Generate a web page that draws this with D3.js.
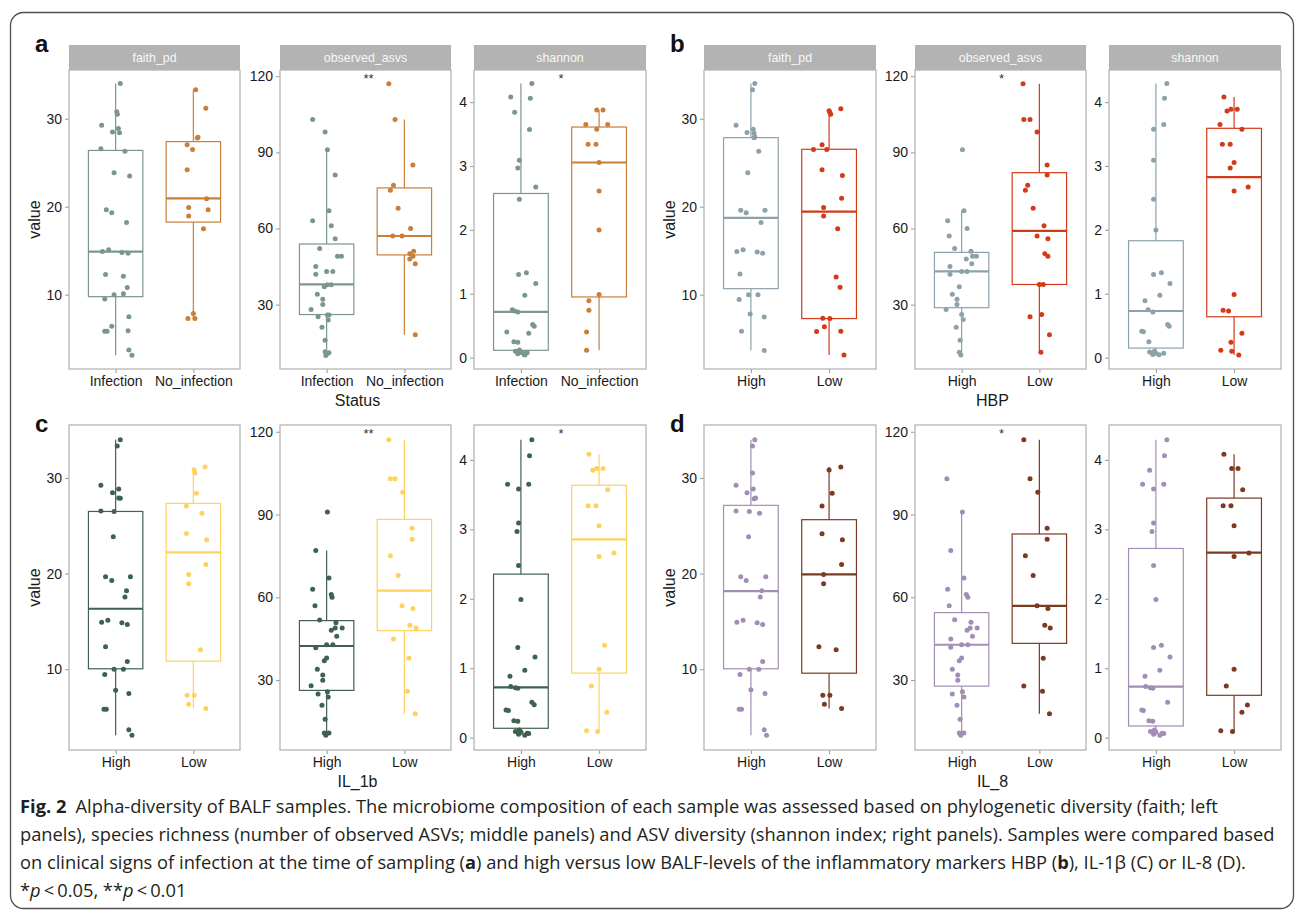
<!DOCTYPE html>
<html>
<head>
<meta charset="utf-8">
<script src="https://cdn.jsdelivr.net/npm/d3@7"></script>
<style>
  body { margin: 0; background: #fff; }
  svg { display: block; }
</style>
</head>
<body>
<div id="chart"></div>
<script>
// ---- data ----
const metrics = ["faith_pd", "observed_asvs", "shannon"];
const faithTicks = [10, 20, 30];
const asvTicks = [30, 60, 90, 120];
const shannonTicks = [0, 1, 2, 3, 4];

const statusGroups = ["Infection", "No_infection"];
const levelGroups = ["High", "Low"];
const axisTitles = ["Status", "HBP", "IL_1b", "IL_8"];
const panelLetters = ["a", "b", "c", "d"];

const aColors = ["#7b978d", "#c97f3a"];
const bColors = ["#8da1ab", "#d23b19"];
const cColors = ["#3f6152", "#ffd25e"];
const dColors = ["#a28eb5", "#7b3a22"];

const aStars = ["", "**", "*"];
const bStars = ["", "*", ""];
const cStars = ["", "**", "*"];
const dStars = ["", "*", ""];

// points: [jitter offset (category units), value]
const aFaith = [
  [[.06,34.0],[.014,30.8],[.022,30.5],[-.18,29.25],[-.04,28.5],[.035,28.9],[.05,28.4],[-.19,26.6],[.12,26.3],[-.02,23.85],[.18,23.5],[-.12,19.65],[-.05,19.3],[.14,18.2],[-.17,14.9],[-.09,15.1],[.08,14.8],[.16,14.7],[-.13,12.3],[.10,12.1],[.15,10.8],[-.02,10.0],[.10,10.1],[-.14,9.5],[.17,7.5],[-.05,6.4],[-.14,5.85],[-.11,5.85],[.16,5.9],[.17,3.7],[.21,3.1]],
  [[.03,33.3],[.16,31.2],[.05,27.8],[.06,27.9],[-.08,27.05],[-.01,26.5],[-.08,24.2],[.17,20.9],[-.06,19.9],[.19,19.65],[-.06,18.95],[.13,17.5],[0,7.85],[-.07,7.3],[.02,7.3]]
];
const aAsv = [
  [[-.18,103.0],[-.02,98.0],[.01,91.0],[.11,81.1],[.03,67.0],[-.18,63.05],[.06,61.1],[.11,56.0],[-.09,52.1],[.14,49.1],[.19,49.1],[-.14,45.0],[-.14,42.0],[0,43.1],[.08,43.1],[-.03,37.1],[.01,37.85],[.06,37.85],[-.12,34.05],[-.05,32.1],[-.05,30.1],[-.2,28.05],[-.11,25.2],[.01,25.95],[.03,25.95],[.02,24.0],[-.06,21.1],[-.02,16.0],[-.02,11.45],[0,10.55],[.03,11.05],[-.01,10.0]],
  [[-.2,117.0],[-.12,103.0],[.11,85.0],[-.14,77.0],[-.18,75.1],[-.08,68.0],[.08,60.05],[-.15,57.05],[-.03,57.05],[.12,51.0],[.07,50.1],[.11,49.05],[.07,48.0],[.14,46.1],[.14,18.1]]
];
const aShannon = [
  [[.14,4.29],[-.13,4.08],[.12,4.06],[-.08,3.84],[.11,3.57],[-.02,3.09],[-.04,2.97],[.19,2.67],[-.02,2.48],[.07,1.33],[-.03,1.30],[.19,1.16],[.05,0.975],[-.11,0.75],[-.08,0.73],[-.04,0.715],[.15,0.52],[.17,0.49],[-.18,0.40],[.10,0.38],[-.09,0.25],[-.04,0.24],[-.07,0.10],[-.02,0.12],[0,0.09],[-.04,0.06],[.04,0.05],[.07,0.07],[.08,0.08],[.02,0.08],[.05,0.04]],
  [[-.03,3.875],[.05,3.875],[-.17,3.65],[.11,3.65],[-.03,3.575],[-.14,3.34],[-.04,3.34],[0,3.055],[0,2.61],[0,2.0],[0,0.99],[-.13,0.89],[-.13,0.74],[-.16,0.40],[-.16,0.115]]
];
const bFaith = [
  [[.05,34.0],[.02,33.3],[-.19,29.25],[-.05,28.45],[.03,28.8],[.04,28.35],[.04,27.85],[.05,27.95],[.1,26.3],[-.04,23.85],[-.13,19.6],[-.06,19.3],[.18,19.6],[.13,18.2],[-.18,14.9],[-.10,15.1],[.08,14.85],[.15,14.7],[-.14,12.35],[-.03,10.0],[.09,10.0],[-.15,9.44],[-.01,7.8],[.17,7.47],[-.12,5.85],[.17,3.66]],
  [[.15,31.15],[0,30.9],[.01,30.7],[.02,30.5],[-.2,26.5],[-.09,27.05],[-.03,26.5],[-.09,24.2],[.17,23.55],[.16,20.95],[-.07,19.9],[-.07,18.95],[.11,17.5],[.09,12.0],[.14,10.83],[-.08,7.32],[.01,7.28],[-.06,6.34],[-.16,5.81],[.15,5.85],[.19,3.13]]
];
const bAsv = [
  [[.01,91.0],[.03,67.0],[-.18,63.05],[.07,60.05],[-.16,57.05],[-.09,52.1],[.12,51.0],[.14,49.1],[.19,49.1],[.06,48.0],[.13,46.1],[-.15,45.0],[-.15,42.0],[0,43.1],[.07,43.1],[-.03,37.1],[-.12,34.05],[-.06,32.1],[-.06,30.1],[-.2,28.05],[0,26.1],[.02,24.1],[-.07,21.1],[-.02,16.0],[-.03,11.2],[-.01,10.15]],
  [[-.21,117.0],[-.2,103.0],[-.12,103.0],[-.03,98.0],[.1,85.0],[.1,81.1],[-.15,77.0],[-.18,75.1],[-.08,68.0],[.06,61.1],[-.03,57.05],[.11,56.0],[.07,50.1],[.11,49.05],[0,37.95],[.05,37.95],[-.12,25.2],[.03,26.1],[.13,18.1],[.02,11.2]]
];
const bShannon = [
  [[.14,4.29],[.11,4.06],[.1,3.65],[-.03,3.575],[-.03,3.09],[-.03,2.48],[0,2.0],[.07,1.33],[-.03,1.30],[.18,1.16],[.05,0.975],[-.14,0.89],[-.1,0.75],[-.04,0.715],[.15,0.52],[.17,0.49],[-.18,0.415],[-.16,0.405],[-.09,0.25],[-.02,0.10],[-.08,0.09],[-.04,0.05],[0,0.07],[.04,0.045],[.1,0.067]],
  [[-.13,4.08],[-.09,3.86],[-.04,3.89],[.04,3.89],[-.18,3.65],[.1,3.575],[-.15,3.34],[-.05,3.34],[0,3.055],[-.05,2.97],[.18,2.67],[0,2.61],[0,0.99],[-.14,0.74],[-.07,0.73],[.1,0.38],[-.04,0.24],[-.17,0.115],[-.03,0.10],[.06,0.04]]
];
const cFaith = [
  [[.06,34.0],[.02,33.35],[-.19,29.23],[-.04,28.47],[.04,28.85],[.04,27.9],[.06,27.87],[-.19,26.55],[-.02,26.5],[-.03,23.86],[-.13,19.67],[-.05,19.28],[.19,19.67],[.14,18.2],[.12,17.54],[-.18,14.92],[-.1,15.13],[.08,14.85],[.15,14.68],[-.13,12.34],[.15,10.8],[-.02,10.0],[.1,10.0],[-.14,9.44],[0,7.8],[.17,7.45],[-.15,5.81],[-.12,5.81],[.17,3.65],[.21,3.09]],
  [[.15,31.15],[.01,30.84],[.02,30.52],[.04,28.4],[-.09,27.07],[.11,26.3],[-.09,24.2],[.17,23.54],[.16,20.96],[-.06,19.91],[-.06,18.94],[.09,12.03],[-.08,7.28],[.01,7.28],[-.06,6.33],[.16,5.88]]
];
const cAsv = [
  [[.01,90.9],[-.14,77.0],[.03,66.95],[-.18,62.95],[.06,61.0],[.07,60.05],[-.15,56.9],[-.09,51.8],[.12,50.8],[.06,48.05],[.11,48.9],[.2,48.9],[.13,45.9],[-.14,41.75],[0,42.8],[.08,42.8],[0,38.0],[-.03,37.0],[-.12,33.9],[-.05,31.8],[-.05,29.9],[-.2,27.9],[-.11,24.9],[.01,25.75],[.02,23.9],[-.06,20.9],[-.02,15.8],[-.03,10.85],[.03,10.85],[-.01,10.0]],
  [[-.2,117.1],[-.18,103.0],[-.12,103.0],[-.02,98.05],[.1,85.0],[.1,81.0],[-.18,75.05],[-.08,67.9],[-.03,56.9],[.11,55.9],[.07,49.9],[.15,48.9],[-.14,44.9],[.06,37.9],[.04,25.9],[.14,17.75]]
];
const cShannon = [
  [[.14,4.29],[.11,4.06],[-.17,3.65],[.1,3.65],[-.03,3.58],[-.03,3.09],[-.05,2.97],[-.03,2.48],[0,1.99],[-.04,1.30],[.18,1.16],[.05,0.97],[-.14,0.885],[-.13,0.735],[-.07,0.72],[-.04,0.71],[.14,0.51],[.17,0.475],[-.19,0.40],[-.16,0.39],[-.09,0.245],[-.04,0.235],[-.07,0.09],[-.02,0.11],[0,0.08],[-.03,0.05],[.05,0.035],[.08,0.065],[.1,0.06]],
  [[-.13,4.08],[-.08,3.85],[-.03,3.875],[.05,3.875],[.11,3.57],[-.14,3.34],[-.04,3.34],[0,3.05],[.19,2.66],[0,2.61],[.07,1.33],[0,0.985],[-.1,0.745],[.1,0.365],[-.16,0.10],[-.02,0.09]]
];
const dFaith = [
  [[.05,34.0],[.02,33.35],[.02,30.52],[-.19,29.23],[-.05,28.47],[.03,28.85],[.04,27.84],[.06,27.9],[-.19,26.55],[-.02,26.5],[.11,26.3],[-.03,23.86],[-.13,19.67],[-.06,19.28],[.19,19.67],[.14,18.2],[.12,17.54],[-.18,14.92],[-.1,15.13],[.08,14.85],[.15,14.68],[.15,10.8],[-.02,10.0],[.1,10.0],[-.14,9.44],[0,7.84],[.18,7.45],[-.15,5.81],[-.12,5.81],[.17,3.65],[.2,3.09]],
  [[.15,31.15],[0,30.84],[.04,28.4],[-.09,27.07],[-.09,24.17],[.17,23.54],[.16,20.96],[-.07,19.91],[-.07,18.94],[-.13,12.34],[.09,12.03],[-.08,7.28],[.01,7.28],[-.06,6.33],[.16,5.88]]
];
const dAsv = [
  [[-.19,103.0],[.01,90.9],[-.14,77.0],[.03,66.95],[-.18,62.95],[.06,61.0],[.08,60.05],[-.16,56.9],[-.09,51.9],[.12,50.95],[.07,48.05],[.11,48.9],[.2,48.9],[.14,45.9],[-.14,44.9],[-.14,41.9],[0,42.8],[.08,42.8],[0,38.0],[-.03,37.0],[-.12,33.9],[-.05,31.8],[-.05,29.9],[-.12,24.9],[.01,25.75],[.03,23.9],[-.06,20.9],[-.02,15.8],[-.03,10.85],[.03,10.85],[-.01,10.0]],
  [[-.2,117.1],[-.12,103.0],[-.02,98.05],[.1,85.0],[.1,81.0],[-.18,75.05],[-.08,67.9],[-.03,56.9],[.11,55.9],[.07,49.9],[.14,48.9],[.05,37.9],[-.2,27.8],[.04,25.9],[.13,17.75]]
];
const dShannon = [
  [[.14,4.29],[.11,4.06],[-.08,3.85],[-.17,3.65],[.1,3.65],[-.03,3.58],[-.03,3.09],[-.05,2.97],[-.03,2.48],[0,1.99],[.07,1.33],[-.03,1.30],[.18,1.16],[.05,0.97],[-.14,0.885],[-.13,0.735],[-.07,0.72],[-.04,0.71],[.15,0.51],[-.18,0.40],[-.16,0.39],[-.09,0.245],[-.04,0.235],[-.07,0.09],[-.02,0.11],[0,0.08],[-.03,0.05],[.05,0.035],[.08,0.065],[.1,0.06]],
  [[-.13,4.08],[-.03,3.875],[.05,3.875],[.11,3.57],[-.14,3.34],[-.04,3.34],[0,3.05],[.19,2.66],[0,2.61],[0,0.985],[-.1,0.745],[.17,0.47],[.1,0.365],[-.17,0.10],[-.02,0.09]]
];

// box stats: [lower whisker, Q1, median, Q3, upper whisker]
const aFaithBox = [[3.1, 9.77, 14.9, 26.4, 34.0], [7.3, 18.25, 20.95, 27.4, 33.3]];
const aAsvBox = [[10.0, 26.1, 37.95, 53.9, 91.0], [18.1, 49.6, 57.05, 76.0, 103.0]];
const aShannonBox = [[0.04, 0.115, 0.715, 2.57, 4.29], [0.115, 0.95, 3.055, 3.61, 3.875]];
const bFaithBox = [[3.66, 10.68, 18.72, 27.85, 34.0], [3.13, 7.28, 19.43, 26.53, 31.15]];
const bAsvBox = [[10.15, 28.8, 43.1, 50.6, 67.0], [11.2, 37.95, 59.1, 82.0, 117.0]];
const bShannonBox = [[0.045, 0.15, 0.73, 1.83, 4.29], [0.04, 0.64, 2.825, 3.59, 4.08]];
const cFaithBox = [[3.09, 10.04, 16.32, 26.5, 34.0], [5.88, 10.84, 22.21, 27.35, 31.15]];
const cAsvBox = [[10.0, 26.25, 42.35, 51.55, 77.0], [17.75, 47.9, 62.45, 88.25, 117.1]];
const cShannonBox = [[0.035, 0.135, 0.725, 2.355, 4.29], [0.09, 0.93, 2.855, 3.635, 4.08]];
const dFaithBox = [[3.09, 10.04, 18.17, 27.14, 34.0], [5.88, 9.58, 19.91, 25.64, 31.15]];
const dAsvBox = [[10.0, 27.8, 42.8, 54.45, 90.9], [17.75, 43.3, 56.9, 82.95, 117.1]];
const dShannonBox = [[0.035, 0.168, 0.735, 2.725, 4.29], [0.09, 0.61, 2.665, 3.45, 4.08]];

// ---- layout ----
const W = 1295, H = 913;
const colX = [
  [[69, 240], [280, 451], [474, 646]],
  [[704, 876], [915, 1086], [1109, 1281]]
];
const rowY = [
  {top: 70, bottom: 369, strip: true},
  {top: 425, bottom: 750, strip: false}
];
const tickFont = 14, titleFont = 16;
const fontStack = "'Liberation Sans', Arial, Helvetica, sans-serif";

const blocks = [
  {row: 0, col: 0, groups: statusGroups, colors: aColors, stars: aStars, pts: [aFaith, aAsv, aShannon], boxes: [aFaithBox, aAsvBox, aShannonBox]},
  {row: 0, col: 1, groups: levelGroups, colors: bColors, stars: bStars, pts: [bFaith, bAsv, bShannon], boxes: [bFaithBox, bAsvBox, bShannonBox]},
  {row: 1, col: 0, groups: levelGroups, colors: cColors, stars: cStars, pts: [cFaith, cAsv, cShannon], boxes: [cFaithBox, cAsvBox, cShannonBox]},
  {row: 1, col: 1, groups: levelGroups, colors: dColors, stars: dStars, pts: [dFaith, dAsv, dShannon], boxes: [dFaithBox, dAsvBox, dShannonBox]}
];
const metricTicks = [faithTicks, asvTicks, shannonTicks];

// y domain per metric: data range of all panels, expanded 5% like ggplot
const metricExtents = metrics.map((m, mi) =>
  d3.extent(blocks.flatMap(b => b.pts[mi].flat().map(p => p[1]))));
const metricDomains = metricExtents.map(([lo, hi]) => {
  const pad = (hi - lo) * 0.05;
  return [lo - pad, hi + pad];
});

const svg = d3.select("#chart").append("svg")
  .attr("width", W).attr("height", H)
  .style("font-family", fontStack);

svg.append("rect")
  .attr("x", 10.5).attr("y", 12.5)
  .attr("width", 1283).attr("height", 896)
  .attr("rx", 13)
  .attr("fill", "none")
  .attr("stroke", "#505050")
  .attr("stroke-width", 1.3);

blocks.forEach((blk, bi) => {
  const ry = rowY[blk.row];
  const cols = colX[blk.col];

  // panel letter
  svg.append("text")
    .attr("x", cols[0][0] - 34)
    .attr("y", blk.row === 0 ? 52 : 432)
    .attr("font-size", 24).attr("font-weight", "bold")
    .attr("fill", "#111")
    .text(panelLetters[bi]);

  metrics.forEach((metric, mi) => {
    const [x0, x1] = cols[mi];
    const x = d3.scalePoint().domain(blk.groups).range([x0, x1]).padding(0.6);
    const step = x.step();
    const y = d3.scaleLinear().domain(metricDomains[mi]).range([ry.bottom, ry.top]);
    const g = svg.append("g");

    if (ry.strip) {
      g.append("rect")
        .attr("x", x0).attr("y", ry.top - 25)
        .attr("width", x1 - x0).attr("height", 25)
        .attr("fill", "#b3b3b3");
      g.append("text")
        .attr("x", (x0 + x1) / 2).attr("y", ry.top - 12.5)
        .attr("dy", "0.35em")
        .attr("text-anchor", "middle")
        .attr("font-size", 12.4)
        .attr("fill", "#f7f7f7")
        .text(metric);
    }

    // y axis
    const ya = g.append("g")
      .attr("transform", `translate(${x0},0)`)
      .call(d3.axisLeft(y).tickValues(metricTicks[mi]).tickFormat(d3.format("~g"))
        .tickSize(4).tickPadding(3));
    // x axis
    const xa = g.append("g")
      .attr("transform", `translate(0,${ry.bottom})`)
      .call(d3.axisBottom(x).tickSize(4).tickPadding(3));
    [ya, xa].forEach(ax => {
      ax.attr("font-size", tickFont).attr("font-family", fontStack);
      ax.select(".domain").remove();
      ax.selectAll(".tick line").attr("stroke", "#a0a0a0").attr("stroke-width", 1.1);
      ax.selectAll(".tick text").attr("fill", "#1a1a1a");
    });

    // boxplots
    blk.groups.forEach((grp, gi) => {
      const [lo, q1, med, q3, hi] = blk.boxes[mi][gi];
      const cx = x(grp);
      const hw = step * 0.35;
      const col = blk.colors[gi];
      g.append("line")
        .attr("x1", cx).attr("x2", cx)
        .attr("y1", y(hi)).attr("y2", y(q3))
        .attr("stroke", col).attr("stroke-width", 1.2);
      g.append("line")
        .attr("x1", cx).attr("x2", cx)
        .attr("y1", y(q1)).attr("y2", y(lo))
        .attr("stroke", col).attr("stroke-width", 1.2);
      g.append("rect")
        .attr("x", cx - hw).attr("y", y(q3))
        .attr("width", hw * 2).attr("height", y(q1) - y(q3))
        .attr("fill", "#fff")
        .attr("stroke", col).attr("stroke-width", 1.2);
      g.append("line")
        .attr("x1", cx - hw).attr("x2", cx + hw)
        .attr("y1", y(med)).attr("y2", y(med))
        .attr("stroke", col).attr("stroke-width", 2.2);
    });

    // jittered points
    blk.groups.forEach((grp, gi) => {
      g.selectAll(null)
        .data(blk.pts[mi][gi])
        .join("circle")
        .attr("cx", d => x(grp) + d[0] * step)
        .attr("cy", d => y(d[1]))
        .attr("r", 2.5)
        .attr("fill", blk.colors[gi]);
    });

    // significance label, just above the highest value
    if (blk.stars[mi]) {
      const [lo, hi] = metricExtents[mi];
      const labY = hi + (hi - lo) * 0.03;
      g.append("text")
        .attr("x", (x0 + x1) / 2 + (blk.stars[mi].length > 1 ? 3 : 1))
        .attr("y", y(labY) + 7.5)
        .attr("text-anchor", "middle")
        .attr("font-size", 13)
        .attr("fill", "#333")
        .text(blk.stars[mi]);
    }

    // panel border
    g.append("rect")
      .attr("x", x0).attr("y", ry.top)
      .attr("width", x1 - x0).attr("height", ry.bottom - ry.top)
      .attr("fill", "none")
      .attr("stroke", "#b5b5b5").attr("stroke-width", 1.3);
  });

  // y axis title
  const midY = (ry.top + ry.bottom) / 2;
  svg.append("text")
    .attr("transform", `translate(${cols[0][0] - 35},${midY}) rotate(-90)`)
    .attr("text-anchor", "middle")
    .attr("dy", "0.35em")
    .attr("font-size", titleFont)
    .attr("fill", "#1a1a1a")
    .text("value");

  // x axis title
  svg.append("text")
    .attr("x", (cols[0][0] + cols[2][1]) / 2)
    .attr("y", ry.bottom + 37)
    .attr("text-anchor", "middle")
    .attr("font-size", titleFont)
    .attr("fill", "#1a1a1a")
    .text(axisTitles[bi]);
});

// ---- caption ----
const capLines = [
  [{t: "Fig. 2", b: true}, {t: "\u2002Alpha-diversity of BALF samples. The microbiome composition of each sample was assessed based on phylogenetic diversity (faith; left"}],
  [{t: "panels), species richness (number of observed ASVs; middle panels) and ASV diversity (shannon index; right panels). Samples were compared based"}],
  [{t: "on clinical signs of infection at the time of sampling ("}, {t: "a", b: true}, {t: ") and high versus low BALF-levels of the inflammatory markers HBP ("}, {t: "b", b: true}, {t: "), IL-1\u03b2 (C) or IL-8 (D)."}],
  [{t: "*"}, {t: "p", i: true}, {t: "\u2009<\u20090.05, **"}, {t: "p", i: true}, {t: "\u2009<\u20090.01"}]
];
const capBaselines = [813, 841, 869, 897];
const cap = svg.append("g")
  .style("font-family", "'Open Sans', 'Noto Sans', sans-serif")
  .attr("fill", "#231f20");
const capTexts = capLines.map((parts, li) => {
  const t = cap.append("text").attr("x", 20).attr("y", capBaselines[li]).attr("font-size", 16);
  parts.forEach(p => {
    t.append("tspan")
      .attr("font-weight", p.b ? "bold" : null)
      .attr("font-style", p.i ? "italic" : null)
      .text(p.t);
  });
  return t;
});
// fit the full-width second line to the original width
const w2 = capTexts[1].node().getComputedTextLength();
const capSize = 16 * 1256 / w2;
capTexts.forEach(t => t.attr("font-size", capSize));
</script>
</body>
</html>
